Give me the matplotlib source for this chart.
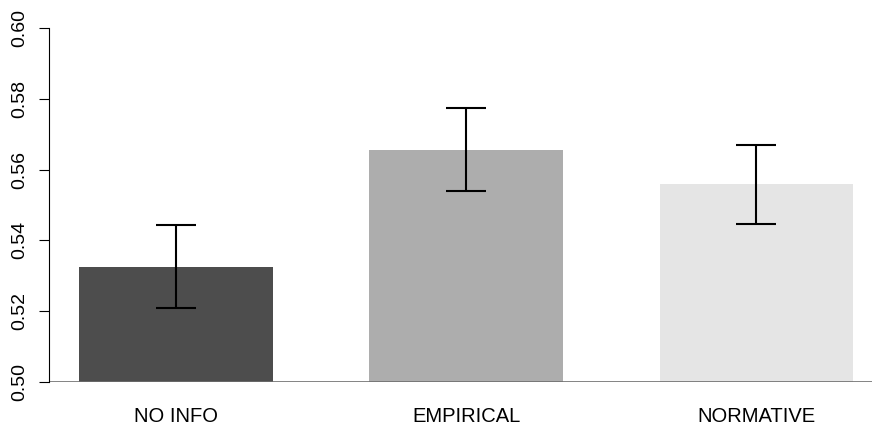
import matplotlib.pyplot as plt

# Data
conditions = ["NO INFO", "EMPIRICAL", "NORMATIVE"]
means = [0.5325, 0.5656, 0.5559]
err_upper = [0.5443, 0.5775, 0.5669]
err_lower = [0.5208, 0.5540, 0.5447]
colors = ["#4D4D4D", "#ADADAD", "#E5E5E5"]

plt.rcParams['font.family'] = ['Liberation Sans', 'DejaVu Sans']

fig = plt.figure(figsize=(8.72, 4.26), dpi=100)
ax = fig.add_axes([48.7 / 872, (426 - 381.7) / 426, 1 - 48.7 / 872, 353.4 / 426])

# R-style barplot positions (space = 0.5, width = 1)
pos = [1.0, 2.5, 4.0]
ax.bar(pos, [m - 0.5 for m in means], bottom=0.5, width=1.0, color=colors, zorder=1)
ax.axhline(0.5, color="#6E6E6E", lw=1.2, zorder=2)

yerr = [[m - lo for m, lo in zip(means, err_lower)],
        [hi - m for m, hi in zip(means, err_upper)]]
ax.errorbar(pos, means, yerr=yerr, fmt="none", ecolor="black", elinewidth=1.5,
            capsize=14.4, capthick=1.5, zorder=3)

x0 = 0.5 - (79 - 48.7) / 193.5
ax.set_xlim(x0, x0 + (872 - 48.7) / 193.5)
ax.set_ylim(0.5, 0.6)
ax.set_yticks([0.50, 0.52, 0.54, 0.56, 0.58, 0.60])
ax.set_yticklabels(["0.50", "0.52", "0.54", "0.56", "0.58", "0.60"],
                   rotation=90, va="center", fontsize=14)
ax.tick_params(axis="y", length=7, width=0.8, pad=8)
ax.set_xticks(pos)
ax.set_xticklabels(conditions, fontsize=14.5)
ax.tick_params(axis="x", length=0, pad=18)

for s in ["top", "right", "bottom"]:
    ax.spines[s].set_visible(False)
ax.spines["left"].set_linewidth(0.8)

fig.savefig("out.png", dpi=100)
